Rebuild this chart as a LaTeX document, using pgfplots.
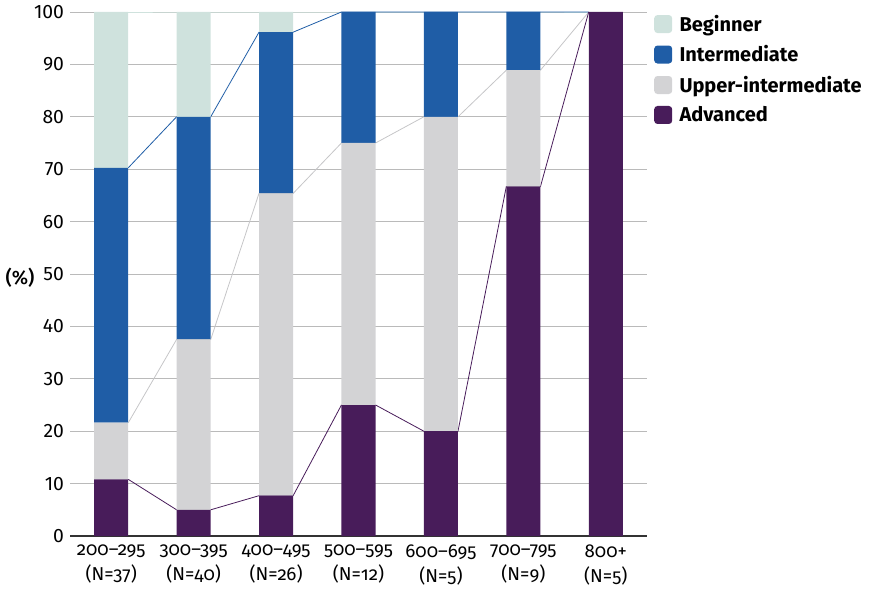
\documentclass[border=0pt]{standalone}
\usepackage{pgfplots}
\pgfplotsset{compat=1.18}
\usepackage{fontspec}
\setmainfont{Fira Sans}
\newfontfamily\oldnum{Fira Sans}[Numbers=OldStyle]
\newfontfamily\medium{Fira Sans Medium}

\definecolor{beg}{HTML}{CFE2DD}
\definecolor{inter}{HTML}{1F5DA6}
\definecolor{upper}{HTML}{D3D3D5}
\definecolor{upline}{HTML}{C6C6C8}
\definecolor{adv}{HTML}{481C5A}
\definecolor{gridc}{HTML}{BABABA}

% share of each level per score band (%)
\pgfplotstableread{
x   adv    upper  inter  beg
0   10.81  10.81  48.65  29.73
1   5.00   32.50  42.50  20.00
2   7.69   57.69  30.77  3.85
3   25.00  50.00  25.00  0
4   20.00  60.00  20.00  0
5   66.67  22.22  11.11  0
6   100    0      0      0
}\levels

\pgfplotsset{
  common/.style={
    at={(52.5pt,39.75pt)}, anchor=south west,
    scale only axis, width=432.75pt, height=393pt,
    xmin=-0.5, xmax=6.5, ymin=0, ymax=100,
  }
}

\begin{document}
\begin{tikzpicture}
\path[use as bounding box] (0pt,0pt) rectangle (654.75pt,441.75pt);

% grid, ticks and the series lines joining the bar edges
\begin{axis}[common,
  axis x line*=bottom, axis y line*=left,
  y axis line style={draw=none},
  x axis line style={black!80, line width=0.8pt},
  major tick length=0pt,
  ytick={0,10,...,100},
  ymajorgrids, grid style={gridc, line width=0.7pt},
  xtick={0,...,6},
  xticklabels={{200–295\\(N=37)},{300–395\\(N=40)},{400–495\\(N=26)},{500–595\\(N=12)},{600–695\\(N=5)},{700–795\\(N=9)},{800+\\(N=5)}},
  x tick label style={align=center, font=\oldnum\fontsize{14}{18.5}\selectfont, yshift=-3pt},
  y tick label style={font=\fontsize{14.5}{16}\selectfont, xshift=-1pt},
  /pgf/number format/assume math mode=true,
]
\addplot[beg, line width=0.6pt] coordinates {(0.207,100)(0.793,100)(1.207,100)(1.793,100)(2.207,100)(2.793,100)(3.207,100)(3.793,100)(4.207,100)(4.793,100)(5.207,100)(5.793,100)};
\addplot[upline, line width=0.6pt] coordinates {(0.207,21.62)(0.793,37.5)(1.207,37.5)(1.793,65.38)(2.207,65.38)(2.793,75)(3.207,75)(3.793,80)(4.207,80)(4.793,88.89)(5.207,88.89)(5.793,100)};
\addplot[inter, line width=0.6pt] coordinates {(0.207,70.27)(0.793,80)(1.207,80)(1.793,96.15)(2.207,96.15)(2.793,100)(3.207,100)(3.793,100)(4.207,100)(4.793,100)(5.207,100)(5.793,100)};
\addplot[adv, line width=0.6pt] coordinates {(0.207,10.81)(0.793,5)(1.207,5)(1.793,7.69)(2.207,7.69)(2.793,25)(3.207,25)(3.793,20)(4.207,20)(4.793,66.67)(5.207,66.67)(5.793,100)};
\end{axis}

% stacked bars
\begin{axis}[common, hide axis,
  ybar stacked, bar width=0.413,
  reverse legend,
  legend cell align=left,
  legend style={at={(rel axis cs:1.012,1.0)}, anchor=north west,
    draw=none, fill=none, font=\bfseries\fontsize{15}{17}\selectfont,
    row sep=5.2pt, column sep=3.5pt, inner sep=0pt},
  legend image code/.code={\path[#1, draw=none, rounded corners=2.5pt] (0pt,-6.75pt) rectangle (13.5pt,6.75pt);},
]
\addplot[fill=adv, draw=none] table[x=x, y=adv] {\levels};
\addplot[fill=upper, draw=none] table[x=x, y=upper] {\levels};
\addplot[fill=inter, draw=none] table[x=x, y=inter] {\levels};
\addplot[fill=beg, draw=none] table[x=x, y=beg] {\levels};
\legend{Advanced, Upper-intermediate, Intermediate, Beginner}
\end{axis}

% axis title
\node[font=\medium\fontsize{14.5}{16}\selectfont] at (15pt,233.25pt) {(\%)};
\end{tikzpicture}
\end{document}
